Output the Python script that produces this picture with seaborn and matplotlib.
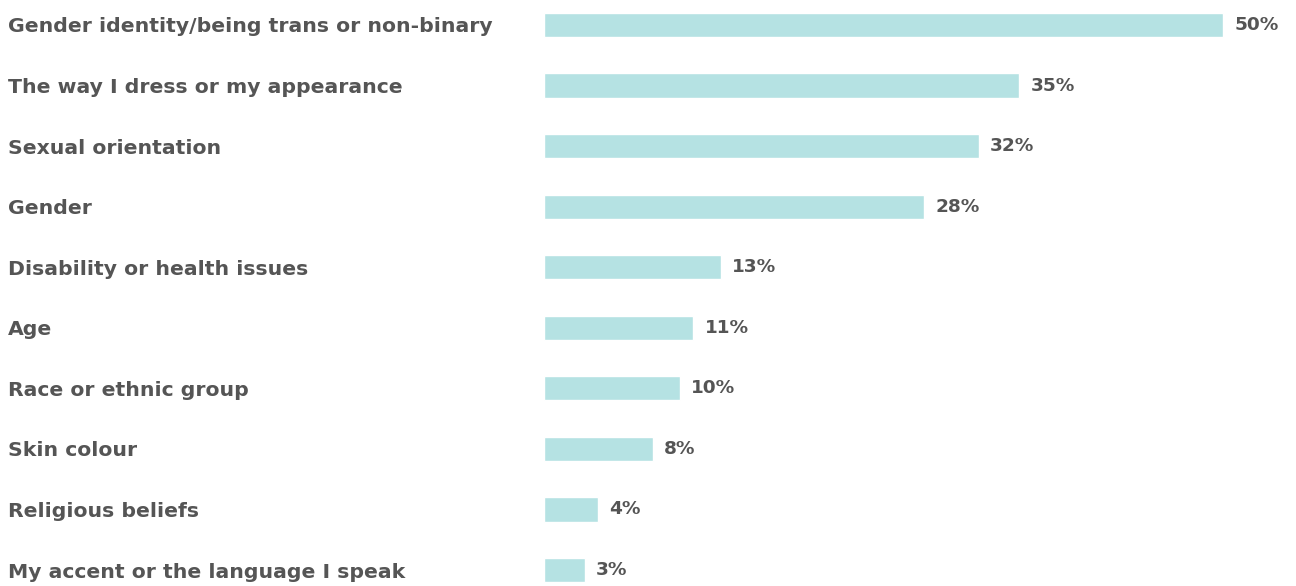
import matplotlib
matplotlib.use('Agg')
import matplotlib.pyplot as plt
import seaborn as sns
import pandas as pd

# Data
categories = [
    'Gender identity/being trans or non-binary',
    'The way I dress or my appearance',
    'Sexual orientation',
    'Gender',
    'Disability or health issues',
    'Age',
    'Race or ethnic group',
    'Skin colour',
    'Religious beliefs',
    'My accent or the language I speak',
]
values = [50, 35, 32, 28, 13, 11, 10, 8, 4, 3]

df = pd.DataFrame({'reason': categories, 'pct': values})

sns.set_theme(style='white')
plt.rcParams['font.family'] = ['DejaVu Sans']

text_color = '#555555'
bar_color = '#b5e2e3'

fig = plt.figure(figsize=(12.96, 5.86), dpi=100)
ax = fig.add_axes([544 / 1296, 0, 1 - 544 / 1296, 1])

sns.barplot(data=df, x='pct', y='reason', color=bar_color, width=0.4,
            saturation=1, ax=ax, orient='h')

ax.set_xlim(0, (1296 - 544) / 13.58)
ax.set_ylim(9 + 16 / 60.56, -25 / 60.56)

# value labels
ax.bar_label(ax.containers[0], labels=[f'{v}%' for v in values],
             padding=8, fontsize=13.3, fontweight='bold', color=text_color)

ax.set_xlabel('')
ax.set_ylabel('')
ax.set_xticks([])
ax.tick_params(axis='y', length=0, pad=(544 - 8) * 0.72)
for lbl in ax.get_yticklabels():
    lbl.set_horizontalalignment('left')
    lbl.set_fontsize(14.7)
    lbl.set_fontweight('bold')
    lbl.set_color(text_color)

sns.despine(ax=ax, left=True, bottom=True)

fig.savefig('out.png', dpi=100)
